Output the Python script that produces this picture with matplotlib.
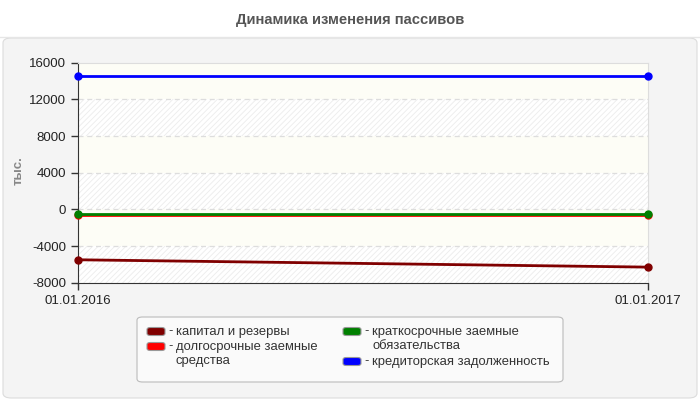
import numpy as np
import matplotlib
matplotlib.use("Agg")
import matplotlib.pyplot as plt
from matplotlib.patches import FancyBboxPatch, Rectangle

plt.rcParams['font.family'] = ['Liberation Sans', 'DejaVu Sans']
plt.rcParams['hatch.linewidth'] = 0.6
plt.rcParams['axes.unicode_minus'] = False

# ---- data ----
dates = ['01.01.2016', '01.01.2017']
capital = [-5500, -6300]
long_term = [-650, -650]
short_term = [-550, -550]
payables = [14600, 14600]
series_names = ['капитал и резервы', 'долгосрочные заемные\nсредства',
                'краткосрочные заемные\nобязательства', 'кредиторская задолженность']
series_colors = ['#800000', '#ff0000', '#008000', '#0000ff']
yticks = [-8000, -4000, 0, 4000, 8000, 12000, 16000]
title = 'Динамика изменения пассивов'
ylabel = 'тыс.'

W, H = 700, 400
def fx(px):
    return px / W
def fy(py):
    return 1 - py / H

fig = plt.figure(figsize=(7, 4), dpi=100)
fig.patch.set_facecolor('white')

# panel
panel = FancyBboxPatch((fx(3), fy(398)), fx(694), 360 / H,
                       boxstyle="round,pad=0,rounding_size=0.012",
                       transform=fig.transFigure, facecolor='#f4f4f4',
                       edgecolor='#dcdcdc', linewidth=0.8, zorder=-5)
fig.add_artist(panel)
fig.add_artist(plt.Line2D([0, 1], [fy(37), fy(37)], transform=fig.transFigure,
                          color='#e6e6e6', lw=1, zorder=-4))

fig.text(0.5, fy(20), title, ha='center', va='center', fontsize=10.6,
         fontweight='bold', color='#555555')

ax = fig.add_axes([fx(78), fy(282.7), 570 / W, 220 / H])
ax.set_zorder(1)
ax.set_facecolor('#fdfdf6')

x = np.arange(len(dates))
ax.set_xlim(x[0], x[-1])
ax.set_ylim(yticks[0], yticks[-1])

# alternating bands
for i, (lo, hi) in enumerate(zip(yticks[:-1], yticks[1:])):
    if i % 2 == 0:
        ax.add_patch(Rectangle((0, lo), 1, hi - lo, transform=ax.get_yaxis_transform(),
                               facecolor='white', edgecolor='#ececec', hatch='//////',
                               linewidth=0, zorder=0.5))

for yv in yticks[1:-1]:
    ax.axhline(yv, color='#dddddd', lw=0.9, ls=(0, (4, 3)), zorder=1)

data = [capital, long_term, short_term, payables]
for vals, col in zip(data, series_colors):
    ax.plot(x, vals, color=col, lw=2, marker='o', ms=5, zorder=3, clip_on=False)

ax.set_xticks(x)
ax.set_xticklabels(dates)
ax.set_yticks(yticks)
ax.tick_params(axis='both', labelsize=9.5, colors='#333333', labelcolor='#222222',
               length=5, width=1, direction='out')
for s in ['left', 'bottom']:
    ax.spines[s].set_color('#333333')
for s in ['top', 'right']:
    ax.spines[s].set_color('#dddddd')

fig.text(fx(19), fy(171), ylabel, rotation=90, ha='center', va='center',
         fontsize=9.5, fontweight='bold', color='#888888')

# ---- legend (manual) ----
lf = FancyBboxPatch((fx(137), fy(382)), fx(426), 65 / H,
                    boxstyle="round,pad=0,rounding_size=0.008",
                    transform=fig.transFigure, facecolor='#fafafa',
                    edgecolor='#bbbbbb', linewidth=0.8, zorder=2)
fig.add_artist(lf)
row_y = [331.5, 346.5, 361.5]
col_x = [147, 343]
row_cursor = [0, 0]
for name, col in zip(series_names, series_colors):
    c = 0 if name in series_names[:2] else 1
    r = row_cursor[c]
    nlines = name.count('\n') + 1
    row_cursor[c] += nlines
    hx = col_x[c]
    hy = row_y[r]
    fig.add_artist(FancyBboxPatch((fx(hx), fy(hy + 4)), fx(18), 8 / H,
                                  boxstyle="round,pad=0,rounding_size=0.005",
                                  transform=fig.transFigure, facecolor=col,
                                  edgecolor='#999999', linewidth=0.8, zorder=3))
    fig.text(fx(hx + 21), fy(hy), '-', ha='left', va='center', fontsize=9.4,
             color='#333333', zorder=3)
    ymid = (row_y[r] + row_y[r + nlines - 1]) / 2
    fig.text(fx(hx + 29), fy(ymid), name, ha='left', va='center', fontsize=9.4,
             color='#333333', linespacing=1.15, zorder=3)

fig.savefig('out.png', dpi=100, facecolor=fig.get_facecolor())
